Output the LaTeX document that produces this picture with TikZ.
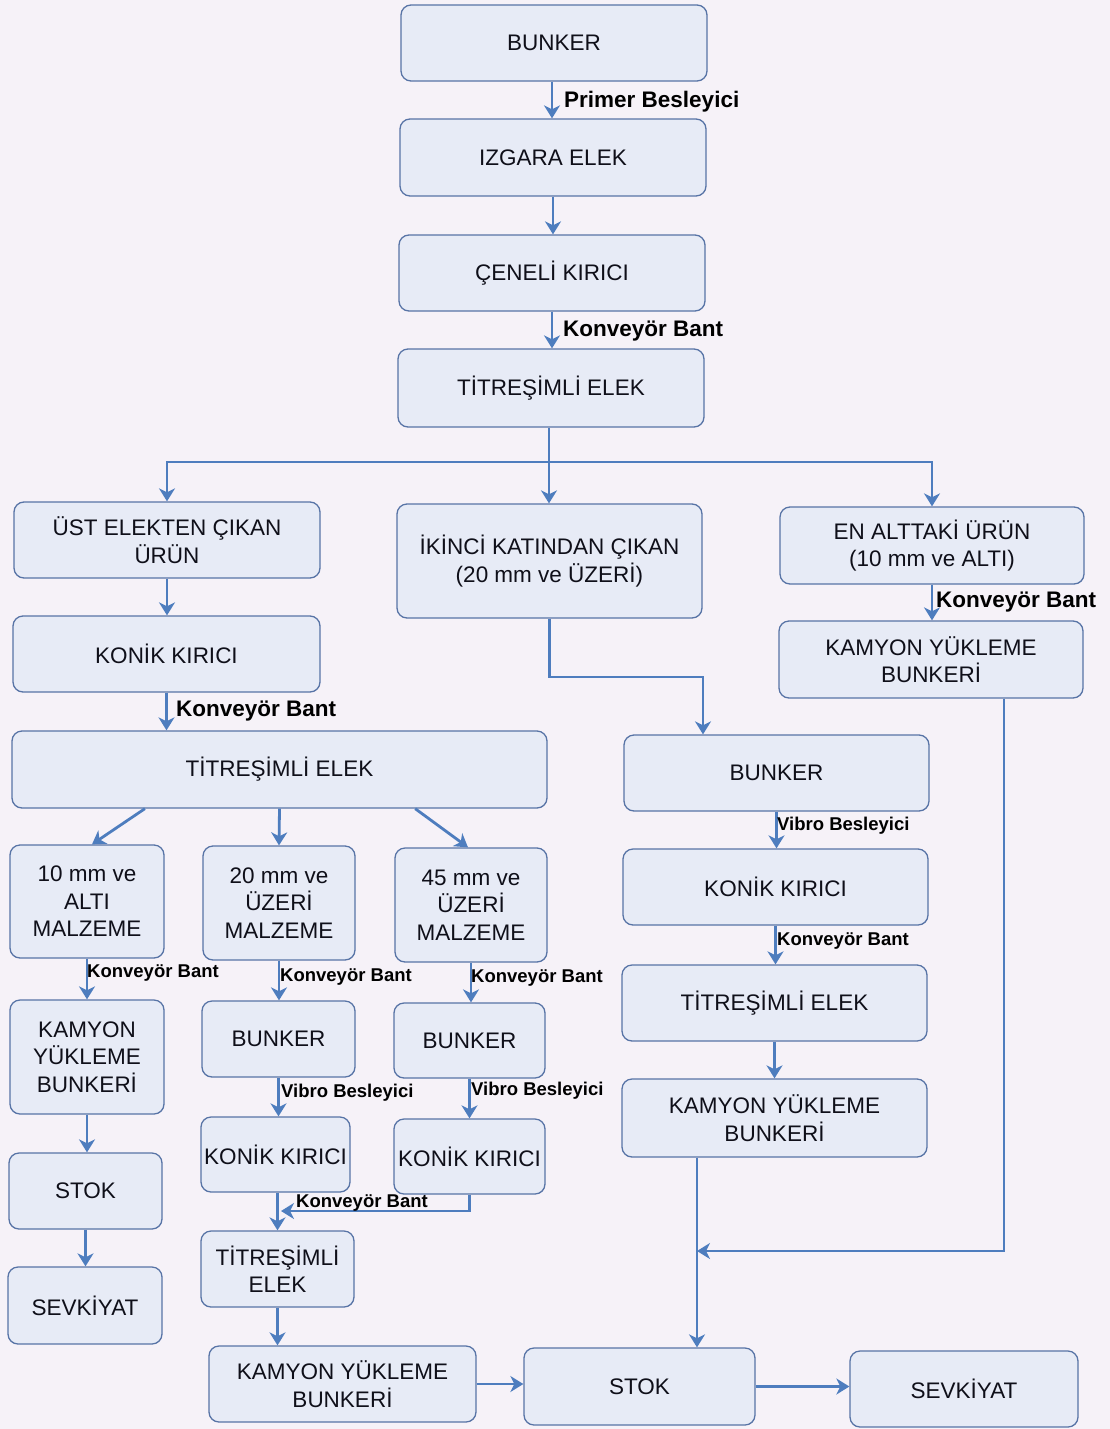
\documentclass[tikz,border=0pt]{standalone}
\usepackage{fontspec}
\setmainfont{Liberation Sans}
\usetikzlibrary{arrows.meta,calc}
\definecolor{bgc}{RGB}{246,242,248}
\definecolor{boxfill}{RGB}{231,235,246}
\definecolor{boxline}{RGB}{88,116,166}
\definecolor{arrc}{RGB}{78,125,190}
\definecolor{txt}{RGB}{15,15,25}
\tikzset{
  box/.style={draw=boxline, fill=boxfill, rounded corners=10pt, line width=1.3pt,
    align=center, inner sep=0pt, text=txt,
    font=\fontsize{22.5}{27.5}\selectfont},
  arr/.style={draw=arrc, line width=2.8pt, -{Stealth[length=13pt,width=16pt,inset=4pt]}},
  biglab/.style={anchor=west, inner sep=0pt, text=black, font=\fontsize{22.5}{27}\selectfont\bfseries},
  smalllab/.style={anchor=west, inner sep=0pt, text=black, font=\fontsize{18.5}{22}\selectfont\bfseries}
}
\begin{document}
\begin{tikzpicture}[x=1pt,y=-1pt]
\useasboundingbox (0,0) rectangle (1110,1429);
\fill[bgc] (0,0) rectangle (1110,1429);

\node[box, minimum width=306, minimum height=76] (b1) at (554,43) {BUNKER};
\node[box, minimum width=306, minimum height=77] (b2) at (553,157.5) {IZGARA ELEK};
\node[box, minimum width=306, minimum height=76] (b3) at (552,273) {ÇENELİ KIRICI};
\node[box, minimum width=306, minimum height=78] (b4) at (551,388) {TİTREŞİMLİ ELEK};
\node[box, minimum width=306, minimum height=76] (b5) at (167,540) {ÜST ELEKTEN ÇIKAN\\ÜRÜN};
\node[box, minimum width=305, minimum height=114] (b6) at (549.5,561) {İKİNCİ KATINDAN ÇIKAN\\(20 mm ve ÜZERİ)};
\node[box, minimum width=304, minimum height=77] (b7) at (932,545.5) {EN ALTTAKİ ÜRÜN\\(10 mm ve ALTI)};
\node[box, minimum width=307, minimum height=76] (b8) at (166.5,654) {KONİK KIRICI};
\node[box, minimum width=304, minimum height=77] (b9) at (931,659.5) {KAMYON YÜKLEME\\BUNKERİ};
\node[box, minimum width=535, minimum height=77] (b10) at (279.5,769.5) {TİTREŞİMLİ ELEK};
\node[box, minimum width=305, minimum height=76] (b11) at (776.5,773) {BUNKER};
\node[box, minimum width=154, minimum height=113] (b12) at (87,901.5) {10 mm ve\\ALTI\\MALZEME};
\node[box, minimum width=152, minimum height=114] (b13) at (279,903) {20 mm ve\\ÜZERİ\\MALZEME};
\node[box, minimum width=152, minimum height=114] (b14) at (471,905) {45 mm ve\\ÜZERİ\\MALZEME};
\node[box, minimum width=305, minimum height=76] (b15) at (775.5,887) {KONİK KIRICI};
\node[box, minimum width=154, minimum height=114] (b16) at (87,1057) {KAMYON\\YÜKLEME\\BUNKERİ};
\node[box, minimum width=153, minimum height=76] (b17) at (278.5,1039) {BUNKER};
\node[box, minimum width=151, minimum height=75] (b18) at (469.5,1040.5) {BUNKER};
\node[box, minimum width=305, minimum height=76] (b19) at (774.5,1003) {TİTREŞİMLİ ELEK};
\node[box, minimum width=305, minimum height=78] (b20) at (774.5,1118) {KAMYON YÜKLEME\\BUNKERİ};
\node[box, minimum width=153, minimum height=76] (b21) at (85.5,1191) {STOK};
\node[box, minimum width=149, minimum height=75] (b22) at (275.5,1154.5) {KONİK KIRICI};
\node[box, minimum width=151, minimum height=75] (b23) at (469.5,1156.5) {KONİK KIRICI};
\node[box, minimum width=153, minimum height=76] (b24) at (277.5,1269) {TİTREŞİMLİ\\ELEK};
\node[box, minimum width=154, minimum height=77] (b25) at (85,1305.5) {SEVKİYAT};
\node[box, minimum width=267, minimum height=76] (b26) at (342.5,1384) {KAMYON YÜKLEME\\BUNKERİ};
\node[box, minimum width=231, minimum height=77] (b27) at (639.5,1386.5) {STOK};
\node[box, minimum width=228, minimum height=76] (b28) at (964,1389) {SEVKİYAT};

% main column
\draw[arr] ([xshift=-2pt]b1.south) -- ([xshift=-2pt]b1.south |- b2.north);
\draw[arr] (b2.south) -- (b2.south |- b3.north);
\draw[arr] (b3.south) -- (b3.south |- b4.north);
% branch
\coordinate (j0) at (549,462);
\draw[arr] (b4.south -| j0) -- (j0 |- b6.north);
\draw[arr] (j0) -| (b5.north);
\draw[arr] (j0) -| (b7.north);
% left column
\draw[arr] (b5.south) -- (b5.south |- b8.north);
\draw[arr] (b8.south) -- (b8.south |- b10.north);
% İKİNCİ -> BUNKER
\coordinate (c1) at (703,677);
\draw[arr] (b6.south) |- (c1) -- (c1 |- b11.north);
% right column
\draw[arr] (b7.south) -- (b7.south |- b9.north);
\coordinate (c2) at (1004,1251);
\coordinate (c3) at (697,1251);
\draw[arr] (b9.south -| c2) -- (c2) -- (c3);
\draw[arr] (b20.south -| c3) -- (c3 |- b27.north);
% middle-right column
\draw[arr] (b11.south) -- (b11.south |- b15.north);
\draw[arr] (b15.south) -- (b15.south |- b19.north);
\draw[arr] (b19.south) -- (b19.south |- b20.north);
% wide screen splits
\draw[arr] ($(b10.south west)!0.249!(b10.south east)$) -- ([xshift=5pt]b12.north);
\draw[arr] ($(b10.south west)!0.5!(b10.south east)$) -- (b13.north);
\draw[arr] ($(b10.south west)!0.753!(b10.south east)$) -- ([xshift=-3pt]b14.north);
% lower columns
\draw[arr] (b12.south) -- (b12.south |- b16.north);
\draw[arr] (b13.south) -- (b13.south |- b17.north);
\draw[arr] (b14.south) -- (b14.south |- b18.north);
\draw[arr] (b16.south) -- (b16.south |- b21.north);
\draw[arr] (b21.south) -- (b21.south |- b25.north);
\draw[arr] (b17.south) -- (b17.south |- b22.north);
\draw[arr] (b18.south) -- (b18.south |- b23.north);
\draw[arr] ([xshift=2pt]b22.south) -- ([xshift=2pt]b22.south |- b24.north);
\coordinate (c4) at (281,1211);
\draw[arr] (b23.south) |- (c4);
\draw[arr] (b24.south) -- (b24.south |- b26.north);
\draw[arr] (b26.east) -- (b26.east -| b27.west);
\draw[arr] (b27.east) -- (b27.east -| b28.west);

% labels
\node[biglab] (l1) at (564,102) {Primer Besleyici};
\node[biglab] (l2) at (563,331) {Konveyör Bant};
\node[biglab] (l3) at (176,711) {Konveyör Bant};
\node[biglab] (l4) at (936,602) {Konveyör Bant};
\node[smalllab] (l5) at (777,826) {Vibro Besleyici};
\node[smalllab] (l6) at (777,941) {Konveyör Bant};
\node[smalllab] (l7) at (87,973) {Konveyör Bant};
\node[smalllab] (l8) at (280,977) {Konveyör Bant};
\node[smalllab] (l9) at (471,978) {Konveyör Bant};
\node[smalllab] (l10) at (281,1093) {Vibro Besleyici};
\node[smalllab] (l11) at (471,1091) {Vibro Besleyici};
\node[smalllab] (l12) at (296,1202.5) {Konveyör Bant};
\end{tikzpicture}
\end{document}
